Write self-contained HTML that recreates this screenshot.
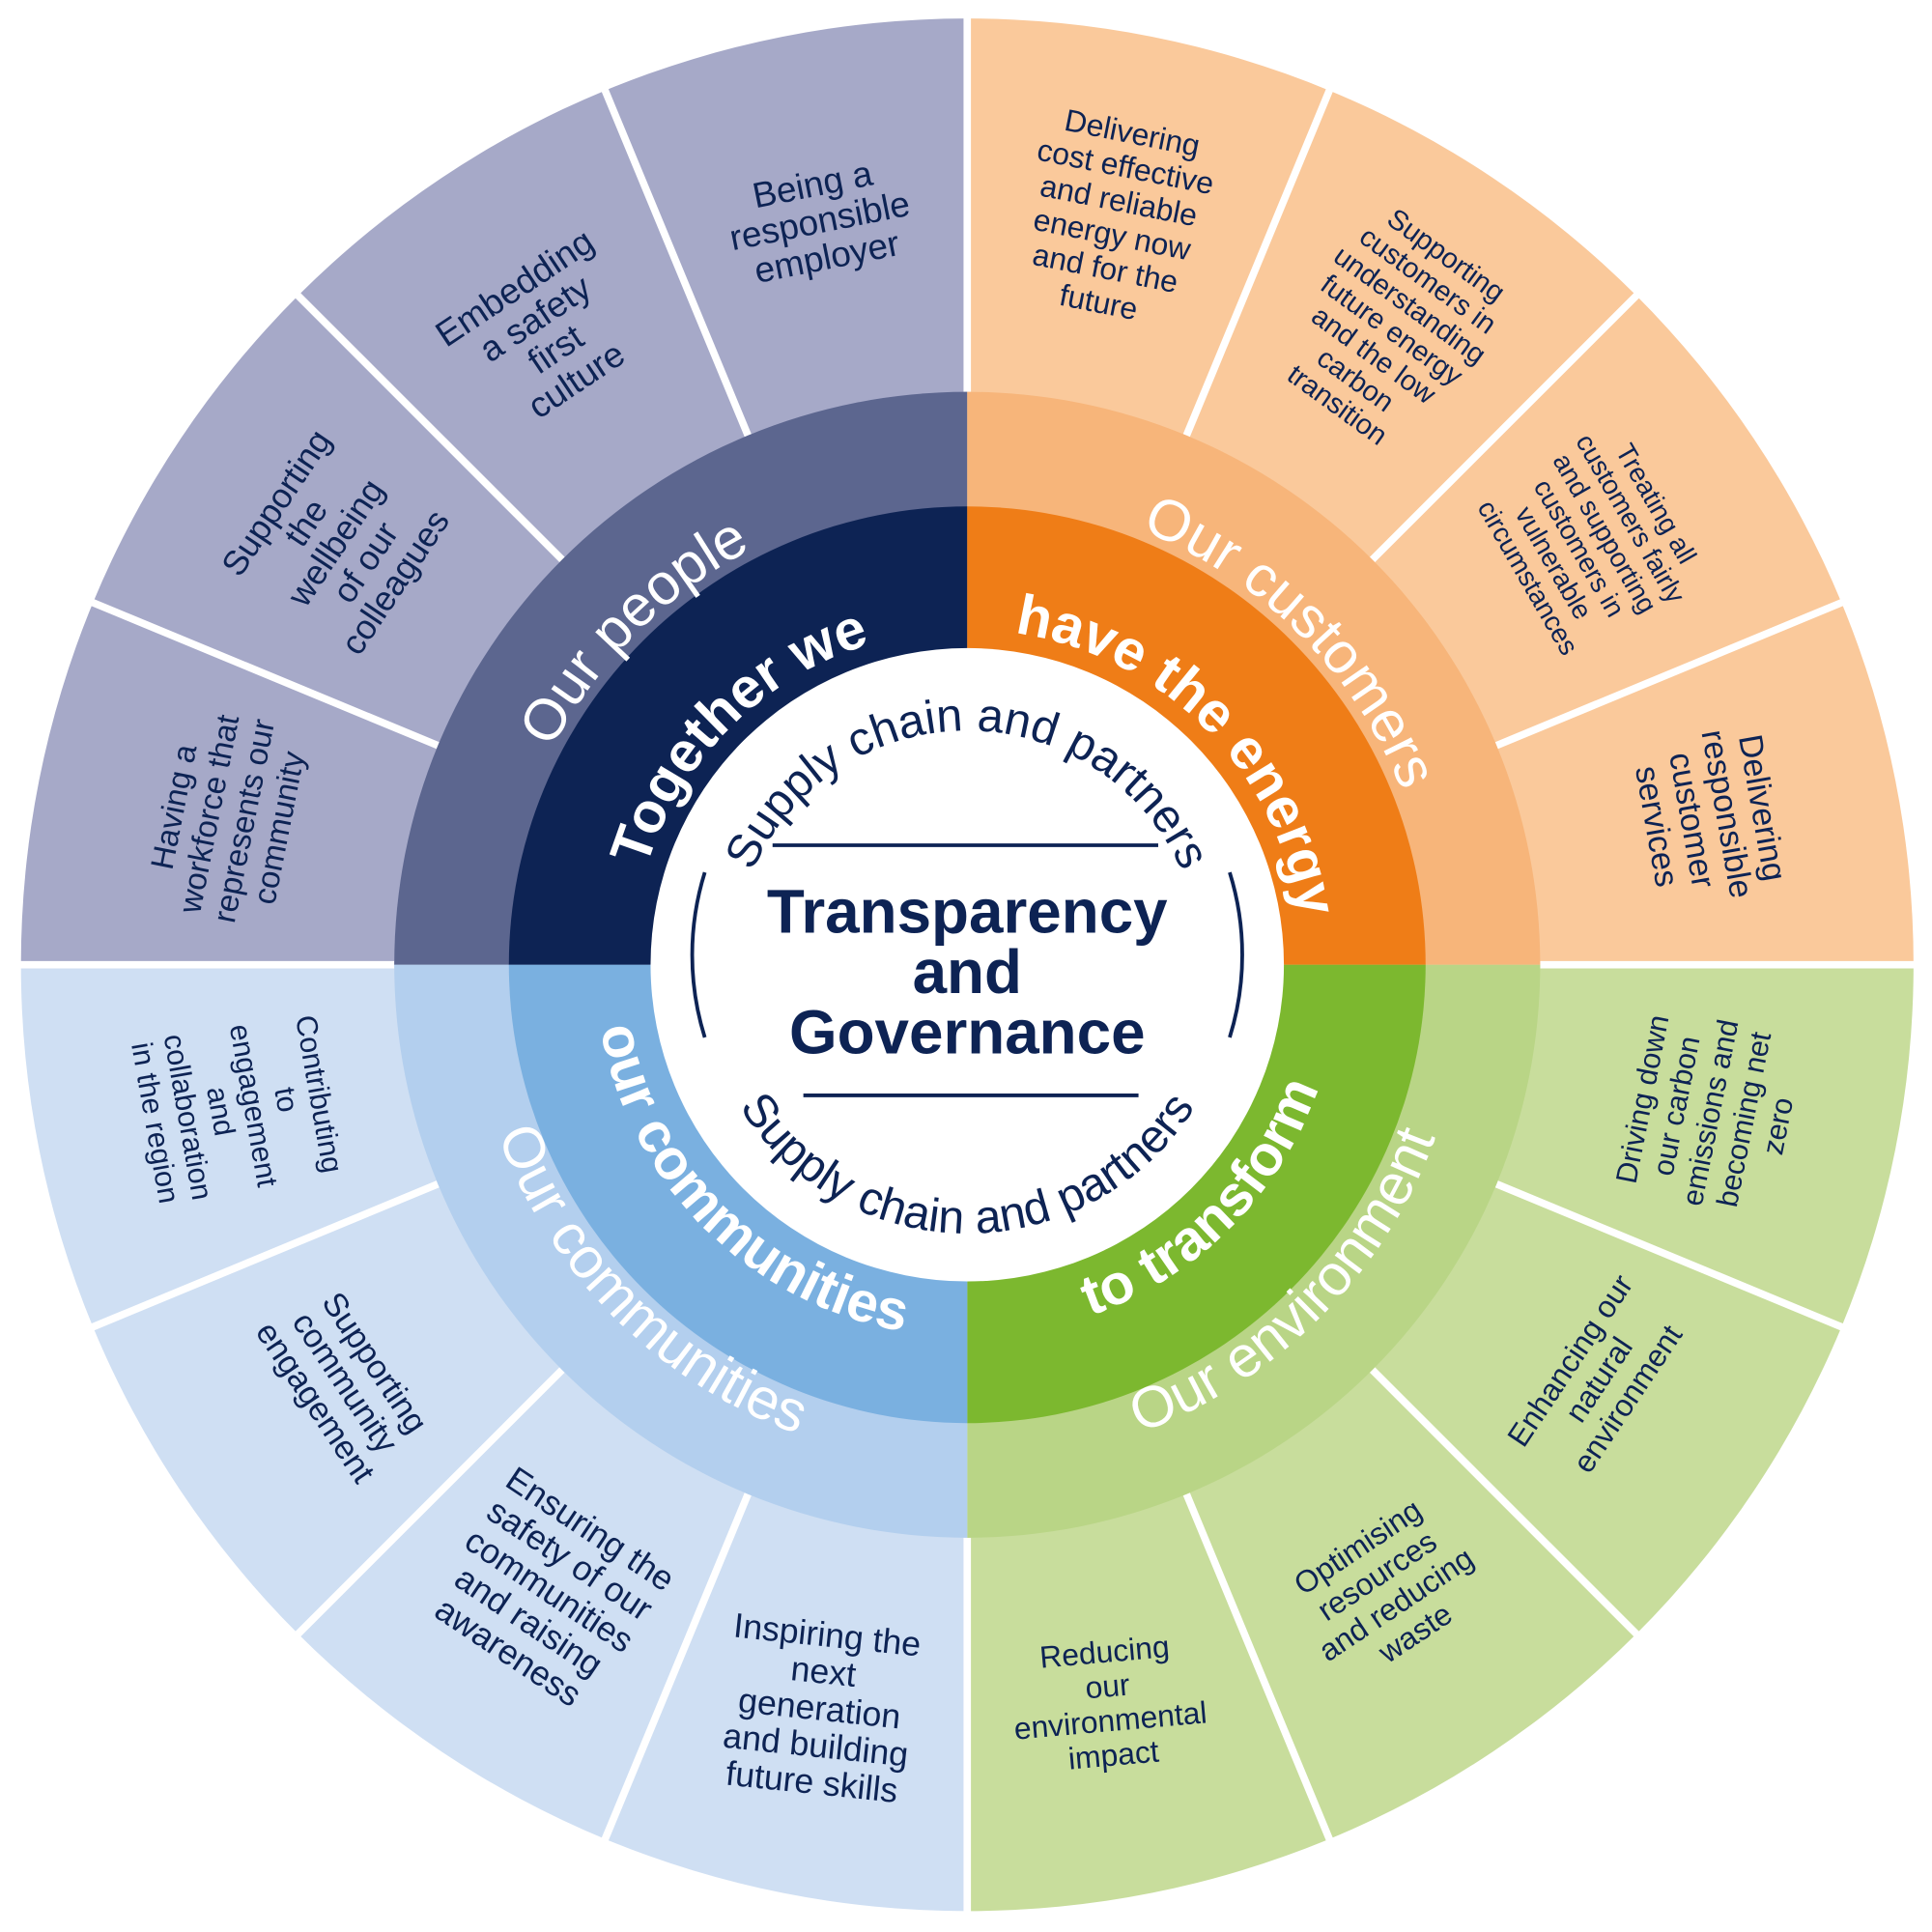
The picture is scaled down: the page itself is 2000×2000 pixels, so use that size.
<!DOCTYPE html>
<html><head><meta charset="utf-8"><style>
html,body{margin:0;padding:0;background:#fff;}
svg{display:block;}
text{font-family:"Liberation Sans",sans-serif;}
</style></head><body>
<svg width="2000" height="2000" viewBox="0 0 1568 1568" xmlns="http://www.w3.org/2000/svg">
<defs>
<path id="ppl" d="M405,783 A380,380 0 0 1 785,403"/>
<path id="cus" d="M785,403 A380,380 0 0 1 1165,783"/>
<path id="env" d="M785,1188 A405,405 0 0 0 1190,783"/>
<path id="com" d="M380,783 A405,405 0 0 0 785,1188"/>
<path id="tw" d="M513,783 A272,272 0 0 1 785,511"/>
<path id="he" d="M785,511 A272,272 0 0 1 1057,783"/>
<path id="tt" d="M785,1085 A302,302 0 0 0 1087,783"/>
<path id="oc" d="M483,783 A302,302 0 0 0 785,1085"/>
<path id="sc1" d="M595,783 A190,190 0 0 1 975,783"/>
<path id="sc2" d="M567,783 A218,218 0 0 0 1003,783"/>
</defs>
<path d="M785,783 L17,783 A768,768 0 0 1 785,15 Z" fill="#a6a9c8"/>
<path d="M785,783 L785,15 A768,768 0 0 1 1553,783 Z" fill="#fac99b"/>
<path d="M785,783 L1553,783 A768,768 0 0 1 785,1551 Z" fill="#c8dd9c"/>
<path d="M785,783 L785,1551 A768,768 0 0 1 17,783 Z" fill="#cfdff3"/>
<g stroke="#fff" stroke-width="6">
<line x1="785" y1="318" x2="785" y2="0"/>
<line x1="785" y1="318" x2="785" y2="0" transform="rotate(22.5 785 783)"/>
<line x1="785" y1="318" x2="785" y2="0" transform="rotate(45 785 783)"/>
<line x1="785" y1="318" x2="785" y2="0" transform="rotate(67.5 785 783)"/>
<line x1="785" y1="318" x2="785" y2="0" transform="rotate(90 785 783)"/>
<line x1="785" y1="318" x2="785" y2="0" transform="rotate(112.5 785 783)"/>
<line x1="785" y1="318" x2="785" y2="0" transform="rotate(135 785 783)"/>
<line x1="785" y1="318" x2="785" y2="0" transform="rotate(157.5 785 783)"/>
<line x1="785" y1="318" x2="785" y2="0" transform="rotate(180 785 783)"/>
<line x1="785" y1="318" x2="785" y2="0" transform="rotate(202.5 785 783)"/>
<line x1="785" y1="318" x2="785" y2="0" transform="rotate(225 785 783)"/>
<line x1="785" y1="318" x2="785" y2="0" transform="rotate(247.5 785 783)"/>
<line x1="785" y1="318" x2="785" y2="0" transform="rotate(270 785 783)"/>
<line x1="785" y1="318" x2="785" y2="0" transform="rotate(292.5 785 783)"/>
<line x1="785" y1="318" x2="785" y2="0" transform="rotate(315 785 783)"/>
<line x1="785" y1="318" x2="785" y2="0" transform="rotate(337.5 785 783)"/>
</g>
<path d="M785,783 L320,783 A465,465 0 0 1 785,318 Z" fill="#5c668f"/>
<path d="M785,783 L785,318 A465,465 0 0 1 1250,783 Z" fill="#f7b57a"/>
<path d="M785,783 L1250,783 A465,465 0 0 1 785,1248 Z" fill="#b9d586"/>
<path d="M785,783 L785,1248 A465,465 0 0 1 320,783 Z" fill="#b3cfee"/>
<path d="M785,783 L413,783 A372,372 0 0 1 785,411 Z" fill="#0d2354"/>
<path d="M785,783 L785,411 A372,372 0 0 1 1157,783 Z" fill="#ef7d17"/>
<path d="M785,783 L1157,783 A372,372 0 0 1 785,1155 Z" fill="#7cb82f"/>
<path d="M785,783 L785,1155 A372,372 0 0 1 413,783 Z" fill="#7ab0e0"/>
<circle cx="785" cy="783" r="257" fill="#fff"/>
<g fill="#fff" font-size="47">
<text><textPath href="#ppl" startOffset="50%" text-anchor="middle">Our people</textPath></text>
<text><textPath href="#cus" startOffset="50%" text-anchor="middle">Our customers</textPath></text>
<text><textPath href="#env" startOffset="50%" text-anchor="middle">Our environment</textPath></text>
<text><textPath href="#com" startOffset="50%" text-anchor="middle">Our communities</textPath></text>
</g>
<g fill="#fff" font-size="46" font-weight="bold">
<text><textPath href="#tw" startOffset="50%" text-anchor="middle">Together we</textPath></text>
<text><textPath href="#he" startOffset="50%" text-anchor="middle">have the energy</textPath></text>
<text><textPath href="#tt" startOffset="50%" text-anchor="middle">to transform</textPath></text>
<text><textPath href="#oc" startOffset="50%" text-anchor="middle">our communities</textPath></text>
</g>
<g fill="#0d2354">
<text font-size="38"><textPath href="#sc1" startOffset="50%" text-anchor="middle">Supply chain and partners</textPath></text>
<text font-size="38"><textPath href="#sc2" startOffset="50%" text-anchor="middle">Supply chain and partners</textPath></text>
<text font-size="50" font-weight="bold" text-anchor="middle"><tspan x="785" y="757">Transparency</tspan><tspan x="785" y="806">and</tspan><tspan x="785" y="855">Governance</tspan></text>
</g>
<g stroke="#0d2354" stroke-width="3" fill="none">
<line x1="627" y1="686" x2="940" y2="686"/>
<line x1="652" y1="889" x2="924" y2="889"/>
<path d="M572,708 A225,225 0 0 0 572,842"/>
<path d="M998,708 A225,225 0 0 1 998,842"/>
</g>
<g fill="#0d2354" text-anchor="middle">
<text font-size="29" transform="translate(665,178) rotate(-11.25)"><tspan x="0" y="-19">Being a</tspan><tspan x="0" dy="30">responsible</tspan><tspan x="0" dy="30">employer</tspan></text>
<text font-size="29" transform="translate(442,270) rotate(-33.75)"><tspan x="0" y="-34">Embedding</tspan><tspan x="0" dy="30">a safety</tspan><tspan x="0" dy="30">first</tspan><tspan x="0" dy="30">culture</tspan></text>
<text font-size="28" transform="translate(272,440) rotate(-56.25)"><tspan x="0" y="-48">Supporting</tspan><tspan x="0" dy="29">the</tspan><tspan x="0" dy="29">wellbeing</tspan><tspan x="0" dy="29">of our</tspan><tspan x="0" dy="29">colleagues</tspan></text>
<text font-size="26" transform="translate(182,663) rotate(-78.75)"><tspan x="0" y="-33">Having a</tspan><tspan x="0" dy="29">workforce that</tspan><tspan x="0" dy="29">represents our</tspan><tspan x="0" dy="29">community</tspan></text>
<text font-size="25" transform="translate(905,178) rotate(11.25)"><tspan x="0" y="-63">Delivering</tspan><tspan x="0" dy="28">cost effective</tspan><tspan x="0" dy="28">and reliable</tspan><tspan x="0" dy="28">energy now</tspan><tspan x="0" dy="28">and for the</tspan><tspan x="0" dy="28">future</tspan></text>
<text font-size="23" transform="translate(1128,270) rotate(36)"><tspan x="0" y="-70">Supporting</tspan><tspan x="0" dy="25">customers in</tspan><tspan x="0" dy="25">understanding</tspan><tspan x="0" dy="25">future energy</tspan><tspan x="0" dy="25">and the low</tspan><tspan x="0" dy="25">carbon</tspan><tspan x="0" dy="25">transition</tspan></text>
<text font-size="22" transform="translate(1290,440) rotate(60)"><tspan x="0" y="-55">Treating all</tspan><tspan x="0" dy="24">customers fairly</tspan><tspan x="0" dy="24">and supporting</tspan><tspan x="0" dy="24">customers in</tspan><tspan x="0" dy="24">vulnerable</tspan><tspan x="0" dy="24">circumstances</tspan></text>
<text font-size="27" transform="translate(1388,663) rotate(80)"><tspan x="0" y="-34">Delivering</tspan><tspan x="0" dy="29">responsible</tspan><tspan x="0" dy="29">customer</tspan><tspan x="0" dy="29">services</tspan></text>
<text font-size="24" transform="translate(1388,903) rotate(-78.75)"><tspan x="0" y="-48">Driving down</tspan><tspan x="0" dy="28">our carbon</tspan><tspan x="0" dy="28">emissions and</tspan><tspan x="0" dy="28">becoming net</tspan><tspan x="0" dy="28">zero</tspan></text>
<text font-size="25" transform="translate(1298,1120) rotate(-56.25)"><tspan x="0" y="-20">Enhancing our</tspan><tspan x="0" dy="28">natural</tspan><tspan x="0" dy="28">environment</tspan></text>
<text font-size="25" transform="translate(1125,1290) rotate(-33.75)"><tspan x="0" y="-33">Optimising</tspan><tspan x="0" dy="28">resources</tspan><tspan x="0" dy="28">and reducing</tspan><tspan x="0" dy="28">waste</tspan></text>
<text font-size="25" transform="translate(900,1382) rotate(-5)"><tspan x="0" y="-33">Reducing</tspan><tspan x="0" dy="28">our</tspan><tspan x="0" dy="28">environmental</tspan><tspan x="0" dy="28">impact</tspan></text>
<text font-size="28" transform="translate(665,1388) rotate(6)"><tspan x="0" y="-52">Inspiring the</tspan><tspan x="0" dy="30">next</tspan><tspan x="0" dy="30">generation</tspan><tspan x="0" dy="30">and building</tspan><tspan x="0" dy="30">future skills</tspan></text>
<text font-size="28" transform="translate(445,1292) rotate(33.75)"><tspan x="0" y="-52">Ensuring the</tspan><tspan x="0" dy="30">safety of our</tspan><tspan x="0" dy="30">communities</tspan><tspan x="0" dy="30">and raising</tspan><tspan x="0" dy="30">awareness</tspan></text>
<text font-size="27" transform="translate(280,1122) rotate(56.25)"><tspan x="0" y="-20">Supporting</tspan><tspan x="0" dy="29">community</tspan><tspan x="0" dy="29">engagement</tspan></text>
<text font-size="24" transform="translate(190,900) rotate(80)"><tspan x="0" y="-62">Contributing</tspan><tspan x="0" dy="27">to</tspan><tspan x="0" dy="27">engagement</tspan><tspan x="0" dy="27">and</tspan><tspan x="0" dy="27">collaboration</tspan><tspan x="0" dy="27">in the region</tspan></text>
</g>
</svg>
</body></html>
